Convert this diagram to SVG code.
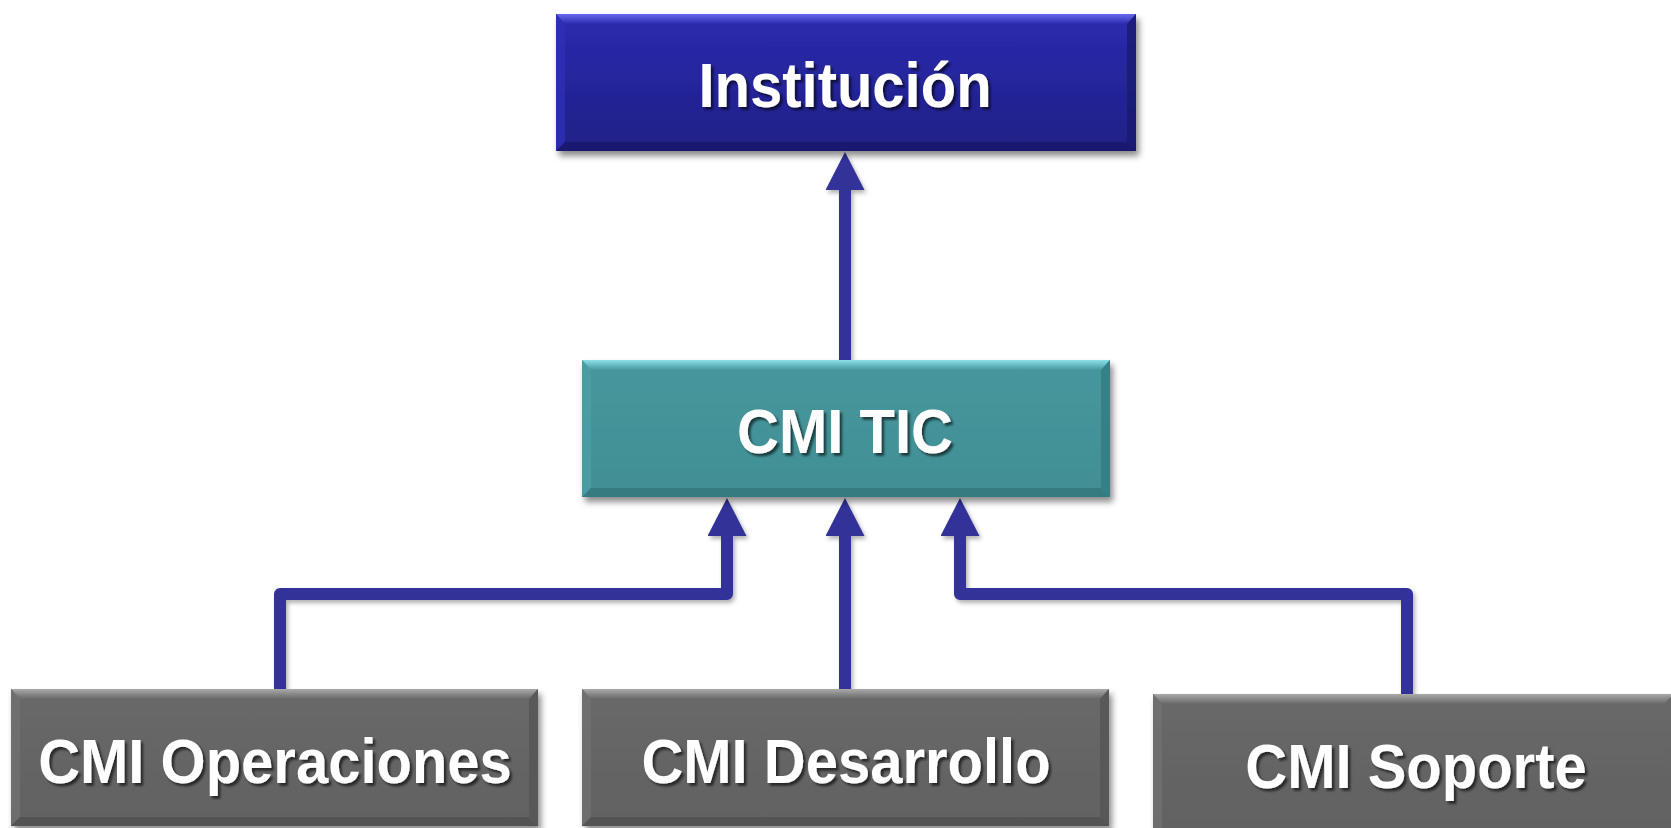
<svg xmlns="http://www.w3.org/2000/svg" width="1671" height="828" viewBox="0 0 1671 828">
  <style>
    .lbl { font-family: "Liberation Sans", Arial, sans-serif; font-weight: bold; font-size: 58px; fill: #ffffff; text-anchor: middle; filter: url(#tshadow); }
    .conn { fill: none; stroke: #333399; stroke-width: 12; stroke-linejoin: round; stroke-linecap: butt; marker-end: url(#arrow); }
  </style>
  <defs>
    <filter id="bshadow" x="-5%" y="-10%" width="112%" height="130%">
      <feDropShadow dx="3" dy="5" stdDeviation="3" flood-color="#000" flood-opacity="0.45"/>
    </filter>
    <filter id="cshadow" x="-10%" y="-10%" width="120%" height="120%">
      <feDropShadow dx="2" dy="3" stdDeviation="2" flood-color="#000" flood-opacity="0.3"/>
    </filter>
    <filter id="tshadow" x="-5%" y="-10%" width="110%" height="130%">
      <feDropShadow dx="2.5" dy="2.5" stdDeviation="1.2" flood-color="#000" flood-opacity="0.6"/>
    </filter>
    <marker id="arrow" markerUnits="userSpaceOnUse" viewBox="0 0 38 39" markerWidth="38" markerHeight="39" refX="0" refY="19.5" orient="auto">
      <path d="M0,0 L38,19.5 L0,39 z" fill="#333399"/>
    </marker>
    <linearGradient id="gBlue" x1="0" y1="0" x2="0" y2="1">
      <stop offset="0" stop-color="#2b2bb0"/>
      <stop offset="1" stop-color="#1f1f86"/>
    </linearGradient>
    <linearGradient id="gBlueTop" x1="0" y1="0" x2="0" y2="1">
      <stop offset="0" stop-color="#6a6aee"/>
      <stop offset="1" stop-color="#2b2bb0"/>
    </linearGradient>
    <linearGradient id="gTeal" x1="0" y1="0" x2="0" y2="1">
      <stop offset="0" stop-color="#46979d"/>
      <stop offset="1" stop-color="#418f95"/>
    </linearGradient>
    <linearGradient id="gTealTop" x1="0" y1="0" x2="0" y2="1">
      <stop offset="0" stop-color="#8ee0e8"/>
      <stop offset="1" stop-color="#46979d"/>
    </linearGradient>
    <linearGradient id="gGrey" x1="0" y1="0" x2="0" y2="1">
      <stop offset="0" stop-color="#686868"/>
      <stop offset="1" stop-color="#626262"/>
    </linearGradient>
    <linearGradient id="gGreyTop" x1="0" y1="0" x2="0" y2="1">
      <stop offset="0" stop-color="#aaaaaa"/>
      <stop offset="1" stop-color="#686868"/>
    </linearGradient>
  </defs>

  <g id="connectors" filter="url(#cshadow)">
    <path class="conn" d="M845,360 V190"/>
    <path class="conn" d="M280,689 V594 H727 V536"/>
    <path class="conn" d="M845,689 V536"/>
    <path class="conn" d="M1407,694 V594 H960 V536"/>
  </g>

  <g id="node-institucion">
    <rect x="556" y="14" width="580" height="137" fill="url(#gBlue)" filter="url(#bshadow)"/>
    <polygon points="556,14 1136,14 1127,24 565,24" fill="url(#gBlueTop)"/>
    <polygon points="556,14 565,24 565,142 556,151" fill="#3030b8" opacity="0.8"/>
    <polygon points="1136,14 1127,24 1127,142 1136,151" fill="#1a1a70" opacity="0.8"/>
    <polygon points="556,151 565,142 1127,142 1136,151" fill="#18186a" opacity="0.8"/>
    <text class="lbl" transform="translate(845,107) scale(1,1.1)">Institución</text>
  </g>

  <g id="node-cmitic">
    <rect x="582" y="360" width="528" height="137" fill="url(#gTeal)" filter="url(#bshadow)"/>
    <polygon points="582,360 1110,360 1101,370 591,370" fill="url(#gTealTop)"/>
    <polygon points="582,360 591,370 591,488 582,497" fill="#4a9fa5" opacity="0.8"/>
    <polygon points="1110,360 1101,370 1101,488 1110,497" fill="#357a80" opacity="0.8"/>
    <polygon points="582,497 591,488 1101,488 1110,497" fill="#33767b" opacity="0.8"/>
    <text class="lbl" transform="translate(845,453) scale(1,1.1)">CMI TIC</text>
  </g>

  <g id="node-operaciones">
    <rect x="11" y="689" width="527" height="137" fill="url(#gGrey)" filter="url(#bshadow)"/>
    <polygon points="11,689 538,689 529,699 20,699" fill="url(#gGreyTop)"/>
    <polygon points="11,689 20,699 20,817 11,826" fill="#707070" opacity="0.8"/>
    <polygon points="538,689 529,699 529,817 538,826" fill="#555555" opacity="0.8"/>
    <polygon points="11,826 20,817 529,817 538,826" fill="#505050" opacity="0.8"/>
    <text class="lbl" transform="translate(275,783) scale(1,1.1)">CMI Operaciones</text>
  </g>

  <g id="node-desarrollo">
    <rect x="582" y="689" width="527" height="137" fill="url(#gGrey)" filter="url(#bshadow)"/>
    <polygon points="582,689 1109,689 1100,699 591,699" fill="url(#gGreyTop)"/>
    <polygon points="582,689 591,699 591,817 582,826" fill="#707070" opacity="0.8"/>
    <polygon points="1109,689 1100,699 1100,817 1109,826" fill="#555555" opacity="0.8"/>
    <polygon points="582,826 591,817 1100,817 1109,826" fill="#505050" opacity="0.8"/>
    <text class="lbl" transform="translate(846,783) scale(1,1.1)">CMI Desarrollo</text>
  </g>

  <g id="node-soporte">
    <rect x="1153" y="694" width="520" height="134" fill="url(#gGrey)" filter="url(#bshadow)"/>
    <polygon points="1153,694 1673,694 1664,704 1162,704" fill="url(#gGreyTop)"/>
    <polygon points="1153,694 1162,704 1162,828 1153,828" fill="#707070" opacity="0.8"/>
    <text class="lbl" transform="translate(1416,788) scale(1,1.1)">CMI Soporte</text>
  </g>
</svg>
